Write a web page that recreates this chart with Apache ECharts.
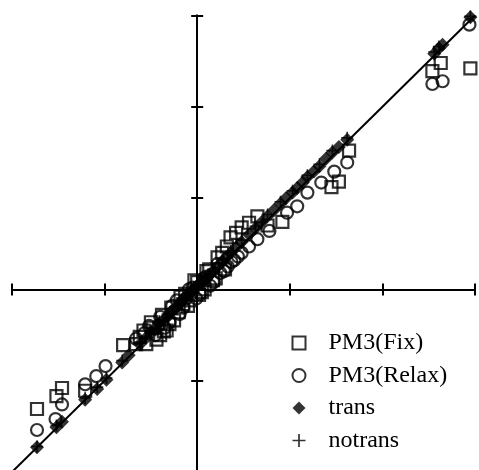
<!DOCTYPE html>
<html>
<head>
<meta charset="utf-8">
<script src="https://cdn.jsdelivr.net/npm/echarts@6/dist/echarts.min.js"></script>
<style>
  html, body { margin: 0; padding: 0; background: #fff; }
  #chart { width: 479px; height: 470px; }
</style>
</head>
<body>
<div id="chart"></div>
<script>
// axis range and ticks (same on both axes)
const axisMin = -2
const axisMax = 3
const tickStep = 1

// y = x reference line
const diagLine = [[-2, -2], [3, 3]]

// PM3(Fix)
const fixPts = [
  [-1.73, -1.31], [-1.52, -1.17], [-1.46, -1.08], [-1.21, -1.11], [-0.80, -0.61],
  [-0.66, -0.60], [-0.62, -0.52], [-0.58, -0.45], [-0.55, -0.60], [-0.50, -0.36],
  [-0.48, -0.42], [-0.44, -0.55], [-0.40, -0.50], [-0.38, -0.28], [-0.36, -0.46],
  [-0.33, -0.45], [-0.30, -0.38], [-0.28, -0.20], [-0.25, -0.34], [-0.20, -0.25],
  [-0.18, -0.08], [-0.15, -0.16], [-0.13, -0.05], [-0.10, -0.18], [-0.07, -0.12],
  [-0.03, 0.10], [0.00, 0.08], [0.02, -0.06], [0.05, -0.03], [0.08, 0.00],
  [0.10, 0.20], [0.13, 0.22], [0.17, 0.10], [0.20, 0.12], [0.22, 0.35],
  [0.27, 0.40], [0.30, 0.22], [0.32, 0.47], [0.36, 0.57], [0.42, 0.62],
  [0.48, 0.68], [0.56, 0.73], [0.65, 0.80], [0.76, 0.70], [0.92, 0.74],
  [1.45, 1.12], [1.53, 1.18], [1.64, 1.52], [2.54, 2.39], [2.63, 2.48],
  [2.95, 2.42]
]

// PM3(Relax)
const relaxPts = [
  [-1.73, -1.54], [-1.53, -1.42], [-1.46, -1.26], [-1.21, -1.04], [-1.09, -0.95],
  [-0.99, -0.84], [-0.66, -0.54], [-0.57, -0.48], [-0.52, -0.40], [-0.45, -0.50],
  [-0.42, -0.40], [-0.40, -0.30], [-0.35, -0.42], [-0.30, -0.36], [-0.27, -0.18],
  [-0.22, -0.12], [-0.19, -0.27], [-0.15, -0.20], [-0.12, -0.10], [-0.09, 0.00],
  [-0.05, 0.02], [-0.01, -0.10], [0.03, -0.05], [0.07, 0.12], [0.10, 0.14],
  [0.14, 0.04], [0.18, 0.08], [0.22, 0.28], [0.25, 0.18], [0.29, 0.20],
  [0.33, 0.25], [0.37, 0.30], [0.40, 0.32], [0.44, 0.36], [0.48, 0.40],
  [0.56, 0.47], [0.65, 0.55], [0.78, 0.64], [0.97, 0.84], [1.08, 0.91],
  [1.19, 1.06], [1.34, 1.17], [1.48, 1.29], [1.62, 1.39], [2.54, 2.25],
  [2.65, 2.28], [2.94, 2.90]
]

// trans
const transPts = [
  [-1.73, -1.73], [-1.52, -1.51], [-1.46, -1.45], [-1.21, -1.21], [-1.08, -1.09],
  [-0.98, -0.99], [-0.81, -0.80], [-0.74, -0.72], [-0.62, -0.60], [-0.55, -0.53],
  [-0.50, -0.47], [-0.45, -0.44], [-0.41, -0.37], [-0.36, -0.33], [-0.32, -0.30],
  [-0.28, -0.24], [-0.24, -0.21], [-0.20, -0.17], [-0.17, -0.13], [-0.13, -0.10],
  [-0.10, -0.06], [-0.07, -0.03], [-0.04, 0.00], [-0.01, 0.03], [0.02, 0.06],
  [0.05, 0.09], [0.09, 0.12], [0.13, 0.16], [0.17, 0.20], [0.22, 0.25],
  [0.27, 0.30], [0.31, 0.35], [0.36, 0.40], [0.42, 0.46], [0.48, 0.52],
  [0.56, 0.60], [0.63, 0.67], [0.69, 0.73], [0.76, 0.80], [0.83, 0.87],
  [0.90, 0.94], [0.96, 1.00], [1.03, 1.06], [1.08, 1.11], [1.14, 1.17],
  [1.19, 1.23], [1.26, 1.29], [1.32, 1.35], [1.39, 1.43], [1.46, 1.50],
  [1.53, 1.56], [1.62, 1.64], [2.56, 2.58], [2.61, 2.64], [2.65, 2.68],
  [2.95, 2.98]
]

// notrans
const notransPts = [
  [-1.73, -1.72], [-1.52, -1.49], [-1.21, -1.19], [-1.08, -1.07], [-0.98, -0.97],
  [-0.81, -0.78], [-0.62, -0.58], [-0.50, -0.45], [-0.41, -0.35], [-0.32, -0.27],
  [-0.24, -0.19], [-0.17, -0.11], [-0.10, -0.04], [-0.04, 0.02], [0.02, 0.08],
  [0.09, 0.14], [0.17, 0.22], [0.27, 0.32], [0.36, 0.42], [0.48, 0.54],
  [0.63, 0.69], [0.76, 0.82], [0.90, 0.96], [1.03, 1.08], [1.19, 1.25],
  [1.32, 1.37], [1.46, 1.52], [1.62, 1.66], [2.56, 2.60], [2.61, 2.66],
  [2.95, 2.99]
]

const plusPath = 'path://M0,5.2H12V6.8H0Z M5.2,0H6.8V12H5.2Z'

const chart = echarts.init(document.getElementById('chart'))

const lineStyle = { color: '#000', width: 2 }

function makeAxis(inside) {
  return {
    type: 'value',
    min: axisMin,
    max: axisMax,
    interval: tickStep,
    axisLine: { show: true, onZero: true, onZeroAxisIndex: 0, lineStyle: lineStyle },
    axisTick: { show: true, inside: inside, length: 6, lineStyle: lineStyle },
    axisLabel: { show: false },
    splitLine: { show: false }
  }
}

const openStyle = { color: 'rgba(255,255,255,0)', borderColor: '#000', borderWidth: 2.2 }

chart.setOption({
  animation: false,
  backgroundColor: '#fff',
  grid: { left: 12, width: 463, top: 15.5, height: 456.5, outerBoundsMode: 'none' },
  xAxis: [
    Object.assign(makeAxis(false), { position: 'bottom' }),
    Object.assign(makeAxis(true), { position: 'bottom' })
  ],
  yAxis: [
    Object.assign(makeAxis(false), { position: 'left' }),
    Object.assign(makeAxis(true), { position: 'left' })
  ],
  legend: {
    orient: 'vertical',
    left: 291.5,
    top: 331,
    padding: 0,
    itemWidth: 13,
    itemHeight: 13,
    itemGap: 8.5,
    textStyle: {
      fontFamily: 'Liberation Serif',
      fontSize: 24,
      color: '#000',
      padding: [0, 0, 0, 18]
    },
    data: ['PM3(Fix)', 'PM3(Relax)', 'trans', 'notrans']
  },
  series: [
    {
      type: 'line',
      data: diagLine,
      symbol: 'none',
      lineStyle: lineStyle,
      silent: true,
      z: 1
    },
    {
      name: 'PM3(Fix)',
      type: 'scatter',
      symbol: 'rect',
      symbolSize: 12,
      itemStyle: openStyle,
      data: fixPts
    },
    {
      name: 'PM3(Relax)',
      type: 'scatter',
      symbol: 'circle',
      symbolSize: 12,
      itemStyle: openStyle,
      data: relaxPts
    },
    {
      name: 'trans',
      type: 'scatter',
      symbol: 'diamond',
      symbolSize: 14,
      itemStyle: { color: '#000' },
      data: transPts
    },
    {
      name: 'notrans',
      type: 'scatter',
      symbol: plusPath,
      symbolSize: 12,
      itemStyle: { color: '#000' },
      data: notransPts
    }
  ]
})
</script>
</body>
</html>
